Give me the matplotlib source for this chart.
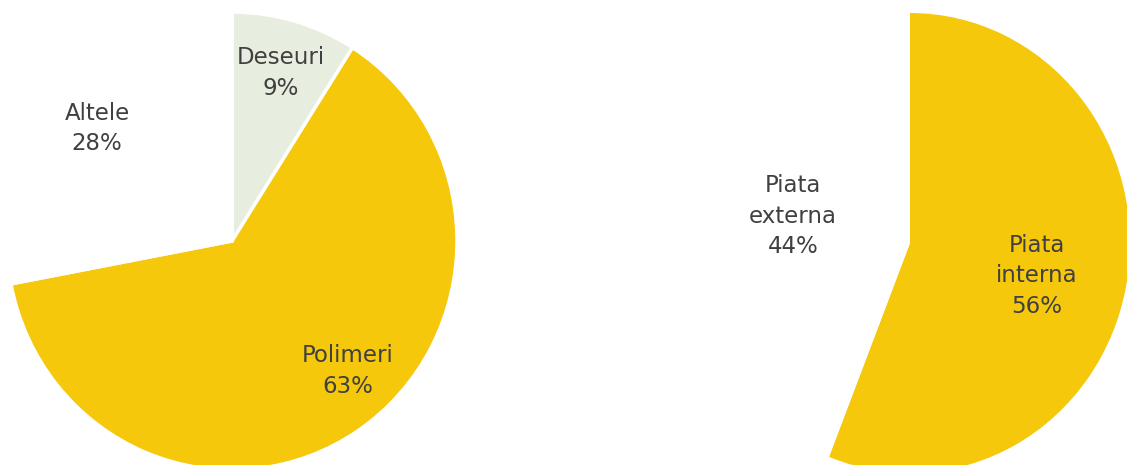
import matplotlib
matplotlib.use("Agg")
import matplotlib.pyplot as plt

# Data
left_labels = ["Deseuri", "Polimeri", "Altele"]
left_values = [9, 63, 28]
right_labels = ["Piata\ninterna", "Piata\nexterna"]
right_values = [56, 44]

YELLOW = "#F5C80C"
PALE = "#E7EEDF"
WHITE = "#FFFFFF"
TXT = "#404040"
FS = 16.5
LS = 1.4

W, H = 1127, 465
fig = plt.figure(figsize=(W / 100, H / 100), dpi=100)

def make_ax(cx, cy, rx, ry):
    # cx, cy in pixels from top-left
    left = (cx - rx) / W
    bottom = ((H - cy) - ry) / H
    ax = fig.add_axes([left, bottom, 2 * rx / W, 2 * ry / H])
    return ax

# Left pie
axL = make_ax(232, 241, 225, 229)
wedgesL, _ = axL.pie(left_values, colors=[PALE, YELLOW, WHITE], startangle=90,
                     counterclock=False, wedgeprops=dict(edgecolor="white", linewidth=2.5))
axL.set_aspect("auto")
axL.set_xlim(-1, 1)
axL.set_ylim(-1, 1)
axL.axis("off")
left_pos = {"Deseuri": (0.218, 0.734), "Polimeri": (0.516, -0.568), "Altele": (-0.60, 0.493)}
for lab, v in zip(left_labels, left_values):
    x, y = left_pos[lab]
    axL.text(x, y, f"{lab}\n{v}%", ha="center", va="center", fontsize=FS,
             color=TXT, linespacing=LS)

# Right pie
axR = make_ax(910, 243, 220, 230)
wedgesR, _ = axR.pie(right_values, colors=[YELLOW, WHITE], startangle=90,
                     counterclock=False, wedgeprops=dict(edgecolor="none"))
axR.set_aspect("auto")
axR.set_xlim(-1, 1)
axR.set_ylim(-1, 1)
axR.axis("off")
right_pos = [(0.577, -0.143), (-0.532, 0.117)]
for lab, v, (x, y) in zip(right_labels, right_values, right_pos):
    axR.text(x, y, f"{lab}\n{v}%", ha="center", va="center", fontsize=FS,
             color=TXT, linespacing=LS)

fig.savefig("out.png", dpi=100)
